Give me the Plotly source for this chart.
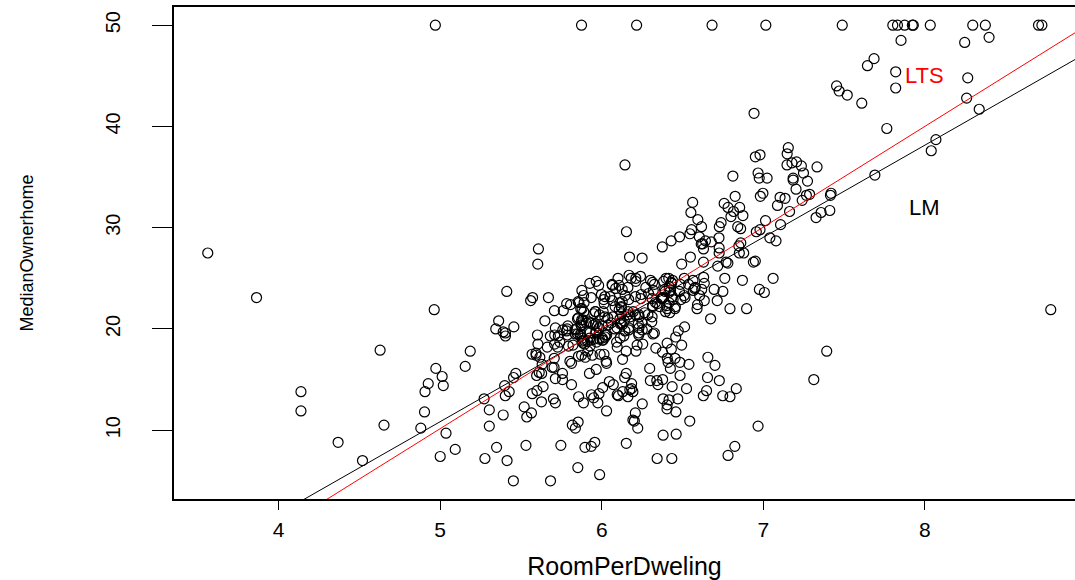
import numpy as np
import plotly.graph_objects as go

# RoomPerDweling (rm) and MedianOwnerhome (medv) values
rm = [
6.575,6.421,7.185,6.998,7.147,6.430,6.012,6.172,5.631,6.004,
6.377,6.009,5.889,5.949,6.096,5.834,5.935,5.990,5.456,5.727,
5.570,5.965,6.142,5.813,5.924,5.599,5.813,6.047,6.495,6.674,
5.713,6.072,5.950,5.701,6.096,5.933,5.841,5.850,5.966,6.595,
7.024,6.770,6.169,6.211,6.069,5.682,5.786,6.030,5.399,5.602,
5.963,6.115,6.511,5.998,5.888,7.249,6.383,6.816,6.145,5.927,
5.741,5.966,6.456,6.762,7.104,6.290,5.787,5.878,5.594,5.885,
6.417,5.961,6.065,6.245,6.273,6.286,6.279,6.140,6.232,5.874,
6.727,6.619,6.302,6.167,6.389,6.630,6.015,6.121,7.007,7.079,
6.417,6.405,6.442,6.211,6.249,6.625,6.163,8.069,7.820,7.416,
6.727,6.781,6.405,6.137,6.167,5.851,5.836,6.127,6.474,6.229,
6.195,6.715,5.913,6.092,6.254,5.928,6.176,6.021,5.872,5.731,
5.870,6.004,5.961,5.856,5.879,5.986,5.613,5.693,6.431,5.637,
6.458,6.326,6.372,5.822,5.757,6.335,5.942,6.454,5.857,6.151,
6.174,5.019,5.403,5.468,4.903,6.130,5.628,4.926,5.186,5.597,
6.122,5.404,5.012,5.709,6.129,6.152,5.272,6.943,6.066,6.510,
6.250,7.489,7.802,8.375,5.854,6.101,7.929,5.877,6.319,6.402,
5.875,5.880,5.572,6.416,5.859,6.546,6.020,6.315,6.860,6.980,
7.765,6.144,7.155,6.563,5.604,6.153,7.831,6.782,6.556,7.185,
6.951,6.739,7.178,6.800,6.604,7.875,7.287,7.107,7.274,6.975,
7.135,6.162,7.610,7.853,8.034,5.891,6.326,5.783,6.064,5.344,
5.960,5.404,5.807,6.375,5.412,6.182,5.888,6.642,5.951,6.373,
6.951,6.164,6.879,6.618,8.266,8.725,8.040,7.163,7.686,6.552,
5.981,7.412,8.337,8.247,6.726,6.086,6.631,7.358,6.481,6.606,
6.897,6.095,6.358,6.393,5.593,5.605,6.108,6.226,6.433,6.718,
6.487,6.438,6.957,8.259,6.108,5.876,7.454,8.704,7.333,6.842,
7.203,7.520,8.398,7.327,7.206,5.560,7.014,8.297,7.470,5.920,
5.856,6.240,6.538,7.691,6.758,6.854,7.267,6.826,6.482,6.812,
7.820,6.968,7.645,7.923,7.088,6.453,6.230,6.209,6.315,6.565,
6.861,7.148,6.630,6.127,6.009,6.678,6.549,5.790,6.345,7.041,
6.871,6.590,6.495,6.982,7.236,6.616,7.420,6.849,6.635,5.972,
4.973,6.122,6.023,6.266,6.567,5.705,5.914,5.782,6.382,6.113,
6.426,6.376,6.041,5.708,6.415,6.431,6.312,6.083,5.868,6.333,
6.144,5.706,6.031,6.316,6.310,6.037,5.869,5.895,6.059,5.985,
5.968,7.241,6.540,6.696,6.874,6.014,5.898,6.516,6.635,6.939,
6.490,6.579,5.884,6.728,5.663,5.936,6.212,6.395,6.127,6.112,
6.398,6.251,5.362,5.803,8.780,3.561,4.963,3.863,4.970,6.683,
7.016,6.216,5.875,4.906,4.138,7.313,6.649,6.794,6.380,6.223,
6.968,6.545,5.536,5.520,4.368,5.277,4.652,5.000,4.880,5.390,
5.713,6.051,5.036,6.193,5.887,6.471,6.405,5.747,5.453,5.852,
5.987,6.343,6.404,5.349,5.531,5.683,4.138,5.608,5.617,6.852,
5.757,6.657,4.628,5.155,4.519,6.434,6.782,5.304,5.957,6.824,
6.411,6.006,5.648,6.103,5.565,5.896,5.837,6.202,6.193,6.380,
6.348,6.833,6.425,6.436,6.208,6.629,6.461,6.152,5.935,5.627,
5.818,6.406,6.219,6.485,5.854,6.459,6.341,6.251,6.185,6.417,
6.749,6.655,6.297,7.393,6.728,6.525,5.976,5.936,6.301,6.081,
6.701,6.376,6.317,6.513,6.209,5.759,5.952,6.003,5.926,5.713,
6.167,6.229,6.437,6.980,5.427,6.162,6.484,5.304,6.185,6.229,
6.242,6.750,7.061,5.762,5.871,6.312,6.114,5.905,5.454,5.414,
5.093,5.983,5.983,5.707,5.926,5.670,5.390,5.794,6.019,5.569,
6.027,6.593,6.120,6.976,6.794,6.030,
]

medv = [
24.0,21.6,34.7,33.4,36.2,28.7,22.9,27.1,16.5,18.9,
15.0,18.9,21.7,20.4,18.2,19.9,23.1,17.5,20.2,18.2,
13.6,19.6,15.2,14.5,15.6,13.9,16.6,14.8,18.4,21.0,
12.7,14.5,13.2,13.1,13.5,18.9,20.0,21.0,24.7,30.8,
34.9,26.6,25.3,24.7,21.2,19.3,20.0,16.6,14.4,19.4,
19.7,20.5,25.0,23.4,18.9,35.4,24.7,31.6,23.3,19.6,
18.7,16.0,22.2,25.0,33.0,23.5,19.4,22.0,17.4,20.9,
24.2,21.7,22.8,23.4,24.1,21.4,20.0,20.8,21.2,20.3,
28.0,23.9,24.8,22.9,23.9,26.6,22.5,22.2,23.6,28.7,
22.6,22.0,22.9,25.0,20.6,28.4,21.4,38.7,43.8,33.2,
27.5,26.5,18.6,19.3,20.1,19.5,19.5,20.4,19.8,19.4,
21.7,22.8,18.8,18.7,18.5,18.3,21.2,19.2,20.4,19.3,
22.0,20.3,20.5,17.3,18.8,21.4,15.7,16.2,18.0,14.3,
19.2,19.6,23.0,18.4,15.6,18.1,17.4,17.1,13.3,17.8,
14.0,14.4,13.4,15.6,11.8,13.8,15.6,14.6,17.8,15.4,
21.5,19.6,15.3,19.4,17.0,15.6,13.1,41.3,24.3,23.3,
27.0,50.0,50.0,50.0,22.7,25.0,50.0,23.8,23.8,22.3,
17.4,19.1,23.1,23.6,22.6,29.4,23.2,24.6,29.9,37.2,
39.8,36.2,37.9,32.5,26.4,29.6,50.0,32.0,29.8,34.9,
37.0,30.5,36.4,31.1,29.1,50.0,33.3,30.3,34.6,34.9,
32.9,24.1,42.3,48.5,50.0,22.6,24.4,22.5,24.4,20.0,
21.7,19.3,22.4,28.1,23.7,25.0,23.3,28.7,21.5,23.0,
26.7,21.7,27.5,30.1,44.8,50.0,37.6,31.6,46.7,31.5,
24.3,31.7,41.7,48.3,29.0,24.0,25.1,31.5,23.7,23.3,
22.0,20.1,22.2,23.7,17.6,18.5,24.3,20.5,24.5,26.2,
24.4,24.8,29.6,42.8,21.9,20.9,44.0,50.0,36.0,30.1,
33.8,43.1,48.8,31.0,36.5,22.8,30.7,50.0,43.5,20.7,
21.1,25.2,24.4,35.2,32.4,32.0,33.2,33.1,29.1,35.1,
45.4,35.4,46.0,50.0,32.2,22.0,20.1,23.2,22.3,24.8,
28.5,37.3,27.9,23.9,21.7,28.6,27.1,20.3,22.5,29.0,
24.8,22.0,26.4,33.1,36.1,28.4,33.4,28.2,22.8,20.3,
16.1,22.1,19.4,21.6,23.8,16.2,17.8,19.8,23.1,21.0,
23.8,23.1,20.4,18.5,25.0,24.6,23.0,22.2,19.3,22.6,
19.8,17.1,19.4,22.2,20.7,21.1,19.5,18.5,20.6,19.0,
18.7,32.7,16.5,23.9,31.2,17.5,17.2,23.1,24.5,26.6,
22.9,24.1,18.6,30.1,18.2,20.6,17.8,21.7,22.7,22.6,
25.0,19.9,20.8,16.8,21.9,27.5,21.9,23.1,50.0,50.0,
50.0,50.0,50.0,13.8,13.8,15.0,13.9,13.3,13.1,10.2,
10.4,10.9,11.3,12.3,8.8,7.2,10.5,7.4,10.2,11.5,
15.1,23.2,9.7,13.8,12.7,13.1,12.5,8.5,5.0,6.3,
5.6,7.2,12.1,8.3,8.5,5.0,11.9,27.9,17.2,27.5,
15.0,17.2,17.9,16.3,7.0,7.2,7.5,10.4,8.8,8.4,
16.7,14.2,20.8,13.4,11.7,8.3,10.2,10.9,11.0,9.5,
14.5,14.1,16.1,14.3,11.7,13.4,9.6,8.7,8.4,12.8,
10.5,17.1,18.4,15.4,10.8,11.8,14.9,12.6,14.1,13.0,
13.4,15.2,16.1,17.8,14.9,14.1,12.7,13.5,14.9,20.0,
16.4,17.7,19.5,20.2,21.4,19.9,19.0,19.1,19.1,20.1,
19.9,19.6,23.2,29.8,13.8,13.3,16.7,12.0,14.6,21.4,
23.0,23.7,25.0,21.8,20.6,21.2,19.1,20.6,15.2,7.0,
8.1,13.6,20.1,21.8,24.5,23.1,19.7,18.3,21.2,17.5,
16.8,22.4,20.6,23.9,22.0,11.9,
]

x_ticks = [4, 5, 6, 7, 8]
y_ticks = [10, 20, 30, 40, 50]

# LTS fit coefficients (intercept, slope)
lts_coef = [-39.6, 9.95]

rm_arr = np.array(rm)
medv_arr = np.array(medv)
lm_slope, lm_int = np.polyfit(rm_arr, medv_arr, 1)

line_x = np.array([3.0, 9.5])

fig = go.Figure()
fig.add_trace(go.Scatter(
    x=rm, y=medv, mode="markers",
    marker=dict(symbol="circle-open", size=10, color="black", line=dict(width=1.2)),
    showlegend=False, hoverinfo="skip"))
fig.add_trace(go.Scatter(
    x=line_x, y=lm_int + lm_slope * line_x, mode="lines",
    line=dict(color="black", width=1), showlegend=False))
fig.add_trace(go.Scatter(
    x=line_x, y=lts_coef[0] + lts_coef[1] * line_x, mode="lines",
    line=dict(color="red", width=1), showlegend=False))

fig.add_annotation(x=8, y=45, text="LTS", showarrow=False,
                   font=dict(family="Liberation Sans", size=22, color="red"))
fig.add_annotation(x=8, y=32, text="LM", showarrow=False,
                   font=dict(family="Liberation Sans", size=22, color="black"))

fig.update_layout(
    width=1075, height=580,
    margin=dict(l=174, r=0, t=7, b=81, autoexpand=False),
    paper_bgcolor="white", plot_bgcolor="white",
    font=dict(family="Liberation Sans", color="black"),
    xaxis=dict(
        range=[3.352, 8.93], tickvals=x_ticks, ticks="outside", ticklen=9,
        tickcolor="black", showline=True, linecolor="black", linewidth=1.5,
        mirror=True, showgrid=False, zeroline=False,
        tickfont=dict(size=21), ticklabelstandoff=2,
        title=dict(text="RoomPerDweling", font=dict(size=25), standoff=19),
    ),
    yaxis=dict(
        range=[3.2, 51.8], tickvals=y_ticks, ticks="outside", ticklen=20,
        tickcolor="black", showline=True, linecolor="black", linewidth=1.5,
        mirror=False, showgrid=False, zeroline=False, tickangle=-90,
        tickfont=dict(size=20), ticklabelstandoff=24,
        title=dict(text="MedianOwnerhome", font=dict(size=18), standoff=64),
    ),
)

fig.write_html("out.html")
